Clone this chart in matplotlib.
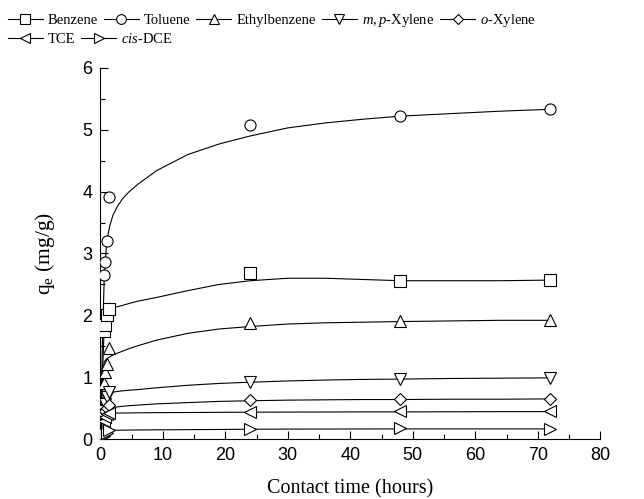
import numpy as np
import matplotlib
matplotlib.use("Agg")
import matplotlib.pyplot as plt
from matplotlib.lines import Line2D
from matplotlib.ticker import MultipleLocator

# measured points (contact time in hours, qe in mg/g)
t_data = [0.5, 0.75, 1.0, 1.3, 24, 48, 72]
benzene = [1.75, 1.84, 2.0, 2.11, 2.68, 2.55, 2.57]
toluene = [2.65, 2.86, 3.2, 3.92, 5.07, 5.22, 5.33]
ethylbenzene = [0.9, 1.09, 1.22, 1.47, 1.88, 1.91, 1.93]
mp_xylene = [0.45, 0.56, 0.68, 0.76, 0.93, 0.97, 0.98]
o_xylene = [0.4, 0.45, 0.5, 0.55, 0.64, 0.65, 0.65]
tce = [0.3, 0.35, 0.4, 0.43, 0.44, 0.45, 0.45]
cis_dce = [0.05, 0.08, 0.1, 0.14, 0.16, 0.18, 0.16]

# fitted curves
t_fit = [0, 0.3, 0.6, 1, 1.5, 2, 2.7, 3.5, 4.5, 6, 9, 14, 19, 24, 30, 36, 42, 48, 56, 64, 72]
benzene_fit = [0, 1.0, 1.8, 2.02, 2.09, 2.12, 2.14, 2.16, 2.19, 2.23, 2.29, 2.4, 2.5, 2.56,
               2.6, 2.6, 2.58, 2.56, 2.56, 2.56, 2.57]
toluene_fit = [0, 1.5, 2.6, 3.2, 3.45, 3.62, 3.76, 3.88, 3.99, 4.12, 4.34, 4.6, 4.77, 4.9,
               5.03, 5.11, 5.17, 5.22, 5.26, 5.3, 5.33]
ethylbenzene_fit = [0, 0.9, 1.25, 1.3, 1.33, 1.36, 1.39, 1.42, 1.46, 1.51, 1.6, 1.71, 1.78, 1.82,
                    1.86, 1.88, 1.89, 1.9, 1.91, 1.92, 1.92]
mp_xylene_fit = [0, 0.5, 0.72, 0.74, 0.75, 0.76, 0.77, 0.78, 0.79, 0.8, 0.83, 0.87, 0.9, 0.92,
                 0.94, 0.955, 0.965, 0.97, 0.98, 0.985, 0.99]
o_xylene_fit = [0, 0.35, 0.48, 0.5, 0.51, 0.515, 0.52, 0.53, 0.54, 0.55, 0.57, 0.59, 0.61, 0.62,
                0.63, 0.635, 0.64, 0.64, 0.645, 0.645, 0.65]
tce_fit = [0, 0.3, 0.41, 0.42, 0.42, 0.42, 0.421, 0.422, 0.423, 0.425, 0.428, 0.43, 0.433, 0.435,
           0.437, 0.438, 0.44, 0.44, 0.442, 0.444, 0.445]
cis_dce_fit = [0, 0.1, 0.135, 0.14, 0.142, 0.143, 0.144, 0.145, 0.146, 0.148, 0.15, 0.153, 0.156,
               0.16, 0.162, 0.163, 0.164, 0.165, 0.165, 0.165, 0.165]

series = [
    ("Benzene", benzene, benzene_fit, "s"),
    ("Toluene", toluene, toluene_fit, "o"),
    ("Ethylbenzene", ethylbenzene, ethylbenzene_fit, "^"),
    (r"$\it{m,p}$-Xylene", mp_xylene, mp_xylene_fit, "v"),
    (r"$\it{o}$-Xylene", o_xylene, o_xylene_fit, "D"),
    ("TCE", tce, tce_fit, "<"),
    (r"$\it{cis}$-DCE", cis_dce, cis_dce_fit, ">"),
]

plt.rcParams["font.family"] = ["Liberation Sans", "DejaVu Sans"]
plt.rcParams["mathtext.fontset"] = "custom"
plt.rcParams["mathtext.rm"] = "Liberation Serif"
plt.rcParams["mathtext.it"] = "Liberation Serif:italic"
plt.rcParams["mathtext.default"] = "regular"

fig = plt.figure(figsize=(6.44, 4.99), dpi=100)
ax = fig.add_axes([0.156, 0.120, 0.776, 0.744])

handles = []
for name, vals, fit, mk in series:
    ms = 6.5 if mk == "D" else 8
    ax.plot(t_fit, fit, color="black", lw=0.8, zorder=2)
    ax.plot(t_data, vals, linestyle="none", marker=mk, ms=ms, mfc="white",
            mec="black", mew=0.8, zorder=3)
    handles.append(Line2D([], [], color="black", lw=0.8, marker=mk, ms=ms - 1,
                          mfc="white", mec="black", mew=0.8, label=name))

ax.set_xlim(0, 80)
ax.set_ylim(0, 6)
ax.xaxis.set_major_locator(MultipleLocator(10))
ax.xaxis.set_minor_locator(MultipleLocator(5))
ax.yaxis.set_major_locator(MultipleLocator(1))
ax.yaxis.set_minor_locator(MultipleLocator(0.5))
ax.spines["top"].set_visible(False)
ax.spines["right"].set_visible(False)
ax.tick_params(which="both", direction="in", width=0.8)
ax.tick_params(which="major", length=6, labelsize=13, pad=6)
ax.tick_params(which="minor", length=3.5)

ax.set_xlabel("Contact time (hours)", family="Liberation Serif", fontsize=14.5, labelpad=11)
ax.set_ylabel(r"q$_\mathregular{e}$ (mg/g)", family="Liberation Serif", fontsize=15.5, labelpad=18)

leg_kw = dict(frameon=False, handlelength=2.4, handletextpad=0.35, columnspacing=0.4,
              borderpad=0, borderaxespad=0, prop={"family": "Liberation Serif", "size": 10.5})
leg1 = fig.legend(handles=handles[:5], ncol=5, loc="upper left",
                  bbox_to_anchor=(0.012, 0.975), **leg_kw)
leg2 = fig.legend(handles=handles[5:], ncol=2, loc="upper left",
                  bbox_to_anchor=(0.012, 0.936), **leg_kw)

fig.savefig("out.png", dpi=100)
